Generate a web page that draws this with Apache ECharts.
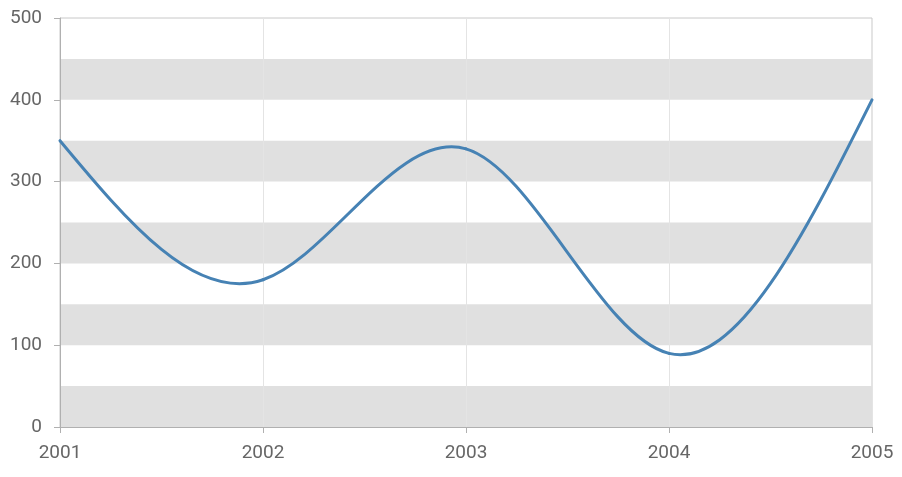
<!DOCTYPE html>
<html><head><meta charset="utf-8">
<script src="https://cdn.jsdelivr.net/npm/echarts@6/dist/echarts.min.js"></script>
<style>html,body{margin:0;padding:0;background:#fff}#c{width:902px;height:477px}</style>
</head><body><div id="c"></div>
<script>
const categories = ['2001', '2002', '2003', '2004', '2005'];
const values = [350, 180, 340, 90, 400];
const yTicks = [0, 100, 200, 300, 400, 500];

// natural cubic spline second derivatives (x = category index, h = 1)
function splineM(y) {
  const n = y.length, M = new Array(n).fill(0);
  if (n < 3) return M;
  const a = [], b = [], c = [], d = [];
  for (let i = 1; i < n - 1; i++) {
    a.push(1); b.push(4); c.push(1); d.push(6 * (y[i + 1] - 2 * y[i] + y[i - 1]));
  }
  const m = d.length;
  for (let i = 1; i < m; i++) {
    const w = a[i] / b[i - 1];
    b[i] -= w * c[i - 1]; d[i] -= w * d[i - 1];
  }
  const x = new Array(m);
  x[m - 1] = d[m - 1] / b[m - 1];
  for (let i = m - 2; i >= 0; i--) x[i] = (d[i] - c[i] * x[i + 1]) / b[i];
  for (let i = 0; i < m; i++) M[i + 1] = x[i];
  return M;
}
const M = splineM(values);

const chart = echarts.init(document.getElementById('c'), null, {renderer: 'canvas'});
const font = {fontFamily: 'Roboto', fontSize: 19, color: '#666'};
chart.setOption({
  animation: false,
  grid: {left: 60, right: 30, top: 18, bottom: 50, show: true, borderColor: '#c8c8c8', borderWidth: 1, backgroundColor: 'transparent'},
  xAxis: {
    type: 'category', data: categories, boundaryGap: false,
    axisLine: {lineStyle: {color: '#b0b0b0'}},
    axisTick: {show: true, length: 6, lineStyle: {color: '#b0b0b0'}},
    axisLabel: Object.assign({margin: 17}, font),
    splitLine: {show: true, lineStyle: {color: '#e4e4e4', width: 1}}
  },
  yAxis: [{
    type: 'value', min: 0, max: 500, interval: 100,
    axisLine: {show: true, lineStyle: {color: '#b0b0b0'}},
    axisTick: {show: true, length: 6, lineStyle: {color: '#b0b0b0'}},
    axisLabel: Object.assign({margin: 18, formatter: v => yTicks.includes(v) ? String(v) : ''}, font),
    splitLine: {show: false}
  }, {
    type: 'value', min: 0, max: 500, interval: 50, position: 'left',
    axisLine: {show: false}, axisTick: {show: false}, axisLabel: {show: false},
    splitLine: {show: false},
    splitArea: {show: true, areaStyle: {color: ['#e0e0e0', 'rgba(255,255,255,0)']}}
  }],
  series: [{
    type: 'custom', yAxisIndex: 0, z: 5,
    data: values.map((v, i) => [i, v]),
    encode: {x: 0, y: 1},
    renderItem: function (params, api) {
      const i = params.dataIndex;
      if (i >= values.length - 1) return null;
      const y0 = values[i], y1 = values[i + 1];
      const d0 = (y1 - y0) - (2 * M[i] + M[i + 1]) / 6;
      const d1 = (y1 - y0) + (M[i] + 2 * M[i + 1]) / 6;
      const p0 = api.coord([i, y0]);
      const p1 = api.coord([i + 1, y1]);
      const c1y = api.coord([i, y0 + d0 / 3])[1];
      const c2y = api.coord([i, y1 - d1 / 3])[1];
      const c1x = p0[0] + (p1[0] - p0[0]) / 3;
      const c2x = p0[0] + 2 * (p1[0] - p0[0]) / 3;
      return {
        type: 'path',
        shape: {pathData: 'M' + p0[0] + ' ' + p0[1] + ' C' + c1x + ' ' + c1y + ' ' + c2x + ' ' + c2y + ' ' + p1[0] + ' ' + p1[1]},
        style: {fill: null, stroke: '#4682b4', lineWidth: 3, lineCap: 'round'}
      };
    }
  }]
});
</script></body></html>
